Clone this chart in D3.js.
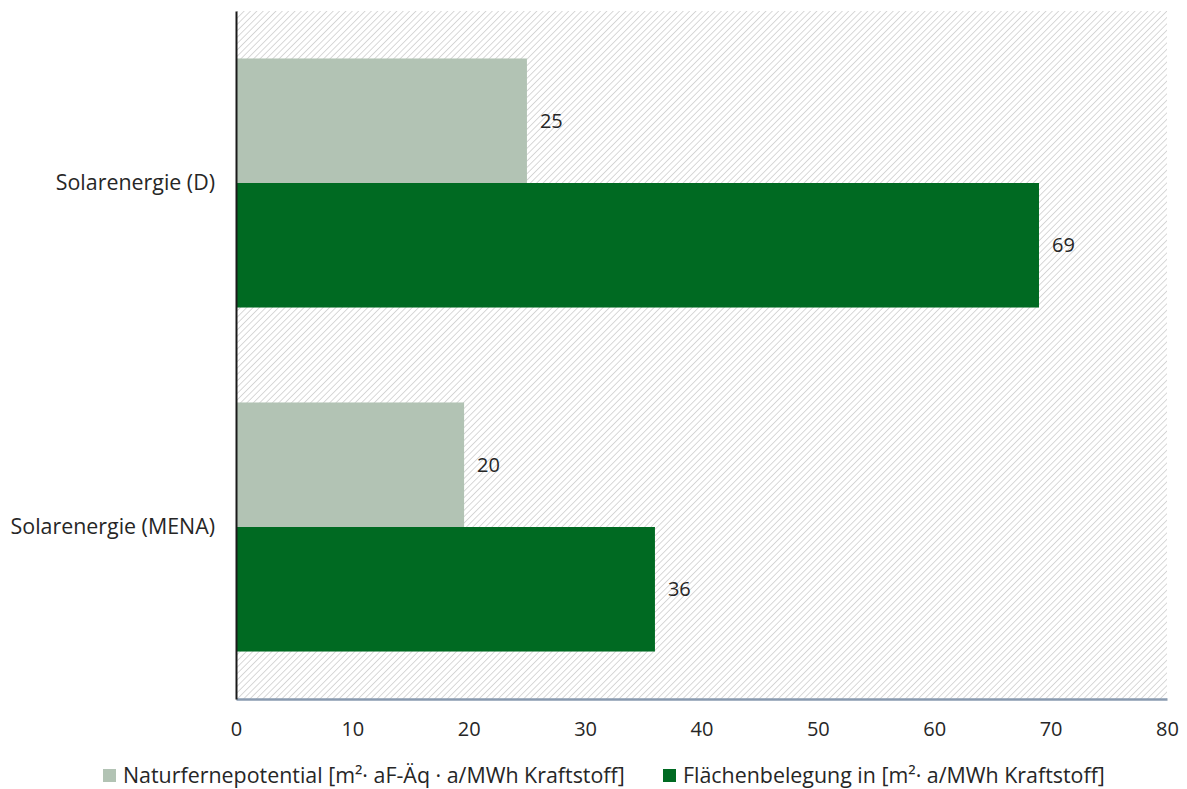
<!DOCTYPE html>
<html><head><meta charset="utf-8">
<script src="https://cdn.jsdelivr.net/npm/d3@7"></script>
<style>
html,body{margin:0;padding:0;background:#fff;}
svg{display:block;font-family:"Open Sans", sans-serif;}
</style></head>
<body>
<svg id="chart" width="1187" height="789"></svg>
<script>
const categories = ["Solarenergie (D)", "Solarenergie (MENA)"];
const seriesNames = ["Naturfernepotential [m²· aF-Äq · a/MWh Kraftstoff]", "Flächenbelegung in [m²· a/MWh Kraftstoff]"];
const naturfernepotential = [25, 19.6];
const flaechenbelegung = [69, 36];
const xTicks = [0, 10, 20, 30, 40, 50, 60, 70, 80];
const colors = ["#b2c3b4", "#006a22"];

const FONT = "'Open Sans', sans-serif";
const FS = 20;
const FS_L = 21.4;
const svg = d3.select("#chart");
const M = {left: 236, top: 11, right: 1167, bottom: 699};

const defs = svg.append("defs");
const pat = defs.append("pattern").attr("id","hatch").attr("patternUnits","userSpaceOnUse")
  .attr("width",4.5).attr("height",4.5).attr("patternTransform","rotate(45)");
pat.append("rect").attr("width",4.5).attr("height",4.5).attr("fill","#fff");
pat.append("line").attr("x1",0).attr("y1",0).attr("x2",0).attr("y2",4.5)
  .attr("stroke","#d4d4d4").attr("stroke-width",1.8);

const x = d3.scaleLinear().domain([0,80]).range([M.left, M.right]);
const y0 = d3.scaleBand().domain(categories).range([M.top, M.bottom]).paddingInner(0.276).paddingOuter(0.138);
const y1 = d3.scaleBand().domain([0,1]).range([0, y0.bandwidth()]);

svg.append("rect").attr("x",M.left).attr("y",M.top).attr("width",M.right-M.left).attr("height",M.bottom-M.top)
  .attr("fill","url(#hatch)");

const series = [naturfernepotential, flaechenbelegung];
const g = svg.append("g");
categories.forEach((c,i)=>{
  series.forEach((s,j)=>{
    const yy = y0(c) + y1(j);
    g.append("rect").attr("x", x(0)).attr("y", yy).attr("width", x(s[i]) - x(0)).attr("height", y1.bandwidth())
      .attr("fill", colors[j]);
    g.append("text").attr("x", x(s[i]) + 13).attr("y", yy + y1.bandwidth()/2).attr("dy","0.35em")
      .attr("font-size",FS).attr("font-family",FONT).attr("fill","#262626").text(d3.format(".0f")(s[i]));
  });
});

// y axis
const yAxis = svg.append("g").attr("transform",`translate(${M.left},0)`)
  .call(d3.axisLeft(y0).tickSize(0).tickPadding(21));
yAxis.select(".domain").attr("stroke","#1a1a1a").attr("stroke-width",2);
yAxis.selectAll("text").attr("font-size",FS_L).attr("fill","#262626").attr("font-family",FONT);

// x axis
const xAxis = svg.append("g").attr("transform",`translate(0,${M.bottom})`)
  .call(d3.axisBottom(x).tickValues(xTicks).tickSize(0).tickPadding(23));
xAxis.select(".domain").attr("stroke","#8a9bb0").attr("stroke-width",2.5);
xAxis.selectAll("text").attr("font-size",FS).attr("fill","#262626").attr("font-family",FONT);
yAxis.raise();

// legend
const legend = svg.append("g");
const legX = [103, 663];
seriesNames.forEach((n,j)=>{
  legend.append("rect").attr("x",legX[j]).attr("y",769).attr("width",13).attr("height",13).attr("fill",colors[j]);
  legend.append("text").attr("x",legX[j]+20).attr("y",776).attr("dy","0.35em").attr("font-size",FS_L)
    .attr("font-family",FONT).attr("fill","#262626").text(n);
});
</script>
</body></html>
